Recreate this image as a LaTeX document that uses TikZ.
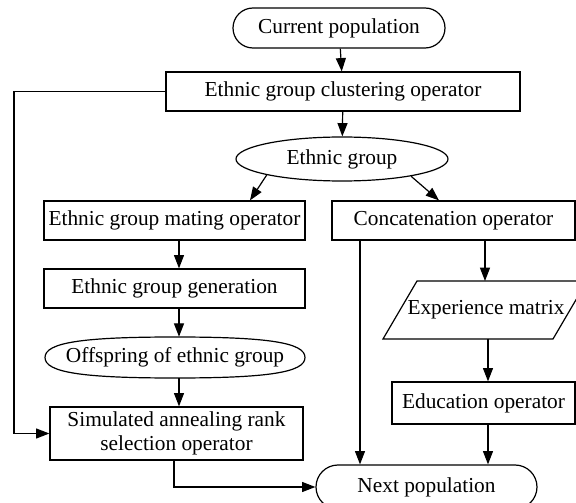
\documentclass[tikz,border=0pt]{standalone}
\usepackage{fontspec}
\setmainfont{Liberation Serif}
\usetikzlibrary{shapes.geometric,arrows.meta}
\begin{document}
\begin{tikzpicture}[x=0.75pt,y=-0.75pt,
  every node/.style={font=\fontsize{16}{17.5}\selectfont, inner sep=0pt},
  procbox/.style={draw, line width=0.9pt, rectangle, align=center},
  termnode/.style={draw, line width=0.9pt},
  ovalnode/.style={draw, line width=0.9pt, ellipse},
  flow/.style={line width=0.9pt, -{Triangle[length=10pt,width=7.5pt]}},
  plain/.style={line width=0.9pt}]
\clip (0,0) rectangle (576,503);
\useasboundingbox (0,0) rectangle (576,503);
% nodes
\node[termnode, rounded corners=15pt, minimum width=212*0.75pt, minimum height=40*0.75pt] (cur) at (339,28) {Current population};
\node[procbox, minimum width=354*0.75pt, minimum height=39*0.75pt] (clu) at (343,91.5) {Ethnic group clustering operator};
\node[ovalnode, minimum width=212*0.75pt, minimum height=44*0.75pt] (eth) at (342,159) {Ethnic group};
\node[procbox, minimum width=261*0.75pt, minimum height=39*0.75pt] (mat) at (174.5,220.5) {Ethnic group mating operator};
\node[procbox, minimum width=243*0.75pt, minimum height=39*0.75pt] (con) at (453.5,220.5) {Concatenation operator};
\node[procbox, minimum width=261*0.75pt, minimum height=39*0.75pt] (gen) at (174.5,288.5) {Ethnic group generation};
\node[minimum width=260*0.75pt, minimum height=41*0.75pt] (off) at (175,357.5) {Offspring of ethnic group};
\draw[plain] (45,357.5) .. controls (45,342.7) and (81.4,337) .. (175,337)
  .. controls (268.6,337) and (305,342.7) .. (305,357.5)
  .. controls (305,372.3) and (268.6,378) .. (175,378)
  .. controls (81.4,378) and (45,372.3) .. cycle;
\node[procbox, minimum width=253*0.75pt, minimum height=53*0.75pt] (sim) at (176.5,433.5) {Simulated annealing rank\\selection operator};
\coordinate (pBL) at (383,339);
\coordinate (pTL) at (417,281);
\coordinate (pTR) at (587,281);
\coordinate (pBR) at (553,339);
\draw[plain] (pBL) -- (pTL) -- (pTR) -- (pBR) -- cycle;
\node (exp) at (486,310) {Experience matrix};
\node[procbox, minimum width=183*0.75pt, minimum height=42*0.75pt] (edu) at (483.5,403) {Education operator};
\node[termnode, rounded corners=16.5pt, minimum width=221*0.75pt, minimum height=44*0.75pt] (nxt) at (426.5,487) {Next population};
% helper x positions
\coordinate (xa) at (179,0);
\coordinate (xb) at (485,0);
\coordinate (xc) at (488,0);
\coordinate (xd) at (360,0);
\coordinate (xe) at (174,0);
\coordinate (xm) at (250,0);
\coordinate (xn) at (439,0);
% connectors
\draw[flow] (cur) -- (clu);
\draw[flow] (clu) -- (eth);
\draw[flow] (eth.192.5) -- (mat.north -| xm);
\draw[flow] (eth.346.8) -- (con.north -| xn);
\draw[flow] (mat.south -| xa) -- (gen.north -| xa);
\draw[flow] (gen.south -| xa) -- (off.north -| xa);
\draw[flow] (off.south -| xa) -- (sim.north -| xa);
\draw[flow] (con.south -| xb) -- (pTL -| xb);
\draw[flow] (pBL -| xc) -- (edu.north -| xc);
\draw[flow] (edu.south -| xc) -- (nxt.north -| xc);
\draw[flow] (con.south -| xd) -- (nxt.north -| xd);
\coordinate (lt) at (14,91.5);
\coordinate (lb) at (14,433.5);
\draw[flow] (clu.west) -- (lt) -- (lb) -- (sim.west |- lb);
\draw[flow] (sim.south -| xe) -- (nxt.west -| xe) -- (nxt.west);
\end{tikzpicture}
\end{document}
